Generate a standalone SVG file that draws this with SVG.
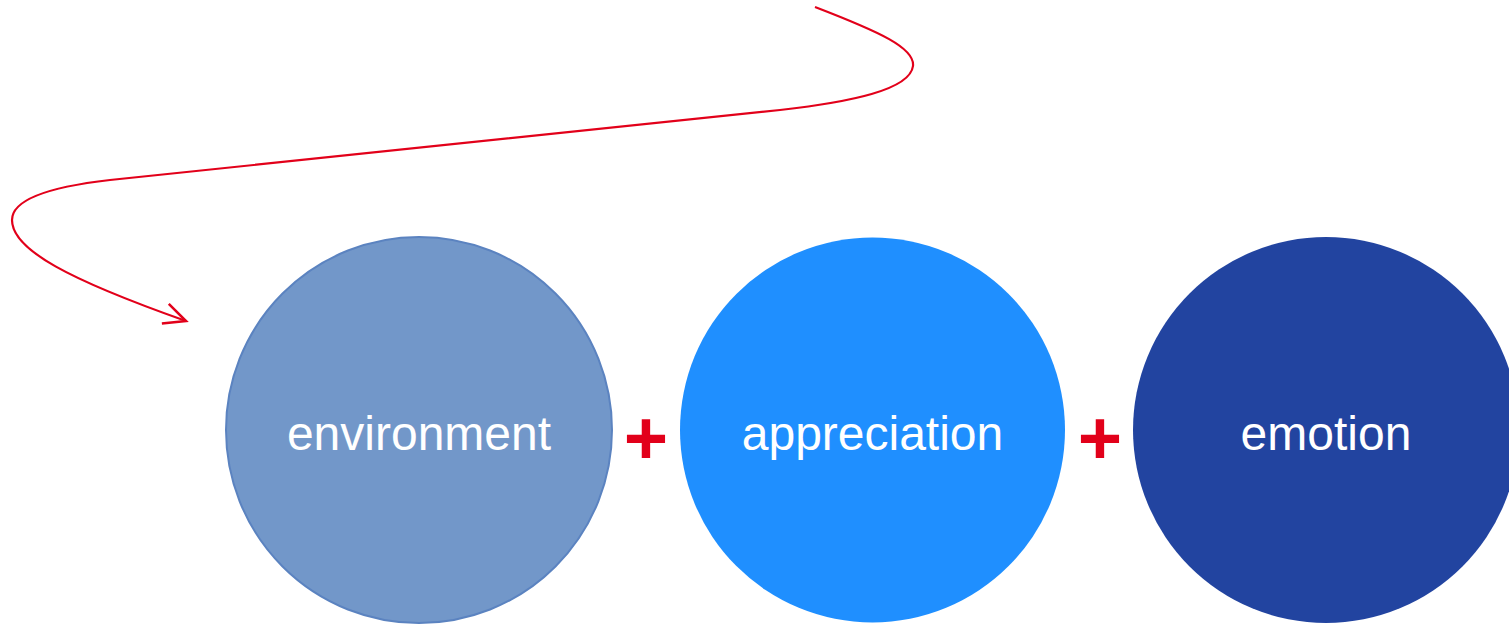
<svg xmlns="http://www.w3.org/2000/svg" width="1509" height="625" viewBox="0 0 1509 625">
  <style>
    .lbl { font-family: "Liberation Sans", Arial, sans-serif; font-size: 48px; fill: #ffffff; text-anchor: middle; }
    .plus { font-family: "Liberation Sans", Arial, sans-serif; font-size: 76px; font-weight: bold; fill: #E2001A; text-anchor: middle; }
    .conn { fill: none; stroke: #E2001A; stroke-width: 2.2; }
  </style>
  <defs>
    <marker id="open" markerUnits="userSpaceOnUse" markerWidth="30" markerHeight="30" refX="0" refY="0" viewBox="-22 -12 26 24" orient="auto">
      <path d="M-19,-9 L0,0 L-19,9" fill="none" stroke="#E2001A" stroke-width="2.2"/>
    </marker>
  </defs>
  <rect width="1509" height="625" fill="#ffffff"/>
  <g id="connectors">
    <path class="conn" marker-end="url(#open)" d="M815,7 C880,32 915,48 913,66 C910,90 850,102 780,110 L110,180 C40,188 12,202 12,220 C12,250 70,280 186,321"/>
  </g>
  <g id="environment">
    <circle cx="419" cy="430" r="193" fill="#7297C9" stroke="#5B83C0" stroke-width="2"/>
    <text class="lbl" x="419" y="450">environment</text>
  </g>
  <g id="appreciation">
    <circle cx="872.5" cy="430" r="192.5" fill="#1F8FFF"/>
    <text class="lbl" x="872.5" y="450">appreciation</text>
  </g>
  <g id="emotion">
    <circle cx="1326" cy="430" r="193" fill="#2244A0"/>
    <text class="lbl" x="1326" y="450">emotion</text>
  </g>
  <g id="plus1">
    <text class="plus" x="646" y="464">+</text>
  </g>
  <g id="plus2">
    <text class="plus" x="1100" y="464">+</text>
  </g>
</svg>
